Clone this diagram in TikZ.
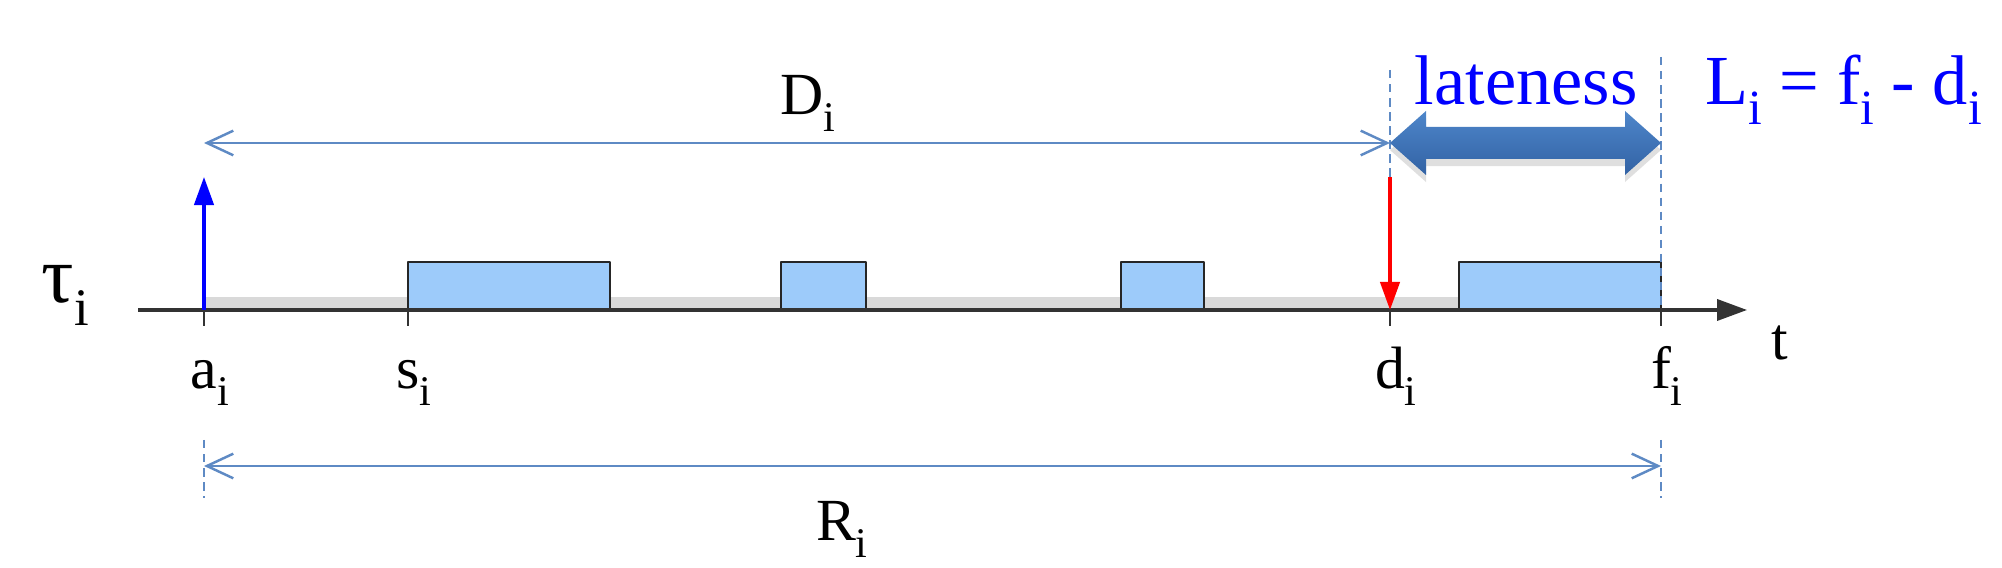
\documentclass[tikz,border=0pt]{standalone}
\usepackage{fontspec}
\setmainfont{Liberation Serif}
\usetikzlibrary{arrows.meta,shadows}

\definecolor{slotblue}{RGB}{157,203,250}
\definecolor{bandgrey}{RGB}{217,217,217}
\definecolor{spanblue}{RGB}{94,138,196}
\definecolor{latedark}{RGB}{50,98,164}
\definecolor{latelight}{RGB}{78,134,202}

% lowered index, size as optional argument
\newcommand{\ix}[2][12]{\raisebox{-0.28em}{\fontsize{#1}{#1}\selectfont #2}}

\tikzset{
  slot/.style={draw=black!85, line width=0.6pt, fill=slotblue},
  guide/.style={spanblue, line width=0.5pt, dash pattern=on 2.4pt off 1.6pt},
  span/.style={spanblue, line width=0.7pt,
    {Straight Barb[length=7.5pt,width=7pt]}-{Straight Barb[length=7.5pt,width=7pt]}},
  event/.style={line width=1pt, -{Triangle[length=8pt,width=5.5pt]}},
  lbl/.style={font=\fontsize{17}{20}\selectfont, inner sep=0pt, anchor=base},
  hl/.style={font=\fontsize{20}{24}\selectfont, text=blue, inner sep=0pt, anchor=base}
}

\begin{document}
\begin{tikzpicture}[x=0.01cm, y=-0.01cm, line join=round]
	\useasboundingbox (0,0) rectangle (2002,568);
	
	% Time instants on the axis
	\coordinate (a) at (204,310);
	\coordinate (s) at (408,310);
	\coordinate (d) at (1390,310);
	\coordinate (f) at (1661,310);
	\coordinate (t0) at (138,310);
	\coordinate (t1) at (1747,310);
	
	% Waiting band and executed slices
	\fill[bandgrey] (a) rectangle (1459,297);
	\draw[slot] (s) rectangle (610,262);
	\draw[slot] (781,310) rectangle (866,262);
	\draw[slot] (1121,310) rectangle (1204,262);
	\draw[slot] (1459,310) rectangle (1661,262);
	
	% Time axis and ticks
	\draw[line width=0.9pt, black!80, -{Triangle[length=8.5pt,width=6pt]}] (t0) -- (t1);
	\foreach \p in {a,s,d,f}
		\draw[line width=0.5pt, black!80] (\p) -- ++(0,16);
	
	% Dashed guides
	\draw[guide] (204,440) -- (204,498);
	\draw[guide] (1661,440) -- (1661,498);
	\draw[guide] (1390,70) -- (1390,177);
	\draw[guide] (1661,57) -- (f);
	
	% Arrival and deadline
	\coordinate (arr) at (204,177);
	\coordinate (dl) at (1390,177);
	\draw[event, blue] (a) -- (arr);
	\draw[event, red] (dl) -- (d);
	
	% Relative deadline and response time
	\coordinate (D0) at (204,143);
	\coordinate (D1) at (1390,143);
	\coordinate (R0) at (204,466);
	\coordinate (R1) at (1661,466);
	\draw[span] (D0) -- (D1);
	\draw[span] (R0) -- (R1);
	
	% Lateness arrow
	\path[top color=latelight, bottom color=latedark, drop shadow={opacity=0.25, shadow xshift=0pt, shadow yshift=-2pt}]
	(1390,143) -- (1426,111) -- (1426,127) -- (1625,127) -- (1625,111) -- (1661,143)
	-- (1625,175) -- (1625,159) -- (1426,159) -- (1426,175) -- cycle;
	
	% Labels
	\node[lbl, font=\fontsize{23}{26}\selectfont] (tau) at (58,303) {τ\rlap{\ix[15]{i}}};
	\node[lbl] (al) at (204,389) {a\rlap{\ix{i}}};
	\node[lbl] (sl) at (408,389) {s\rlap{\ix{i}}};
	\node[lbl] (dlab) at (1390,389) {d\rlap{\ix{i}}};
	\node[lbl] (fl) at (1661,389) {f\rlap{\ix{i}}};
	\node[lbl] (tl) at (1780,360) {t};
	\node[lbl] (Dl) at (802,115) {D\rlap{\ix{i}}};
	\node[lbl] (Rl) at (836,541) {R\rlap{\ix{i}}};
	\node[hl] (late) at (1526,105) {lateness};
	\node[hl, anchor=base west] (Leq) at (1705,105) {L\ix[14]{i} = f\ix[14]{i} - d\ix[14]{i}};
	
\end{tikzpicture}
\end{document}
